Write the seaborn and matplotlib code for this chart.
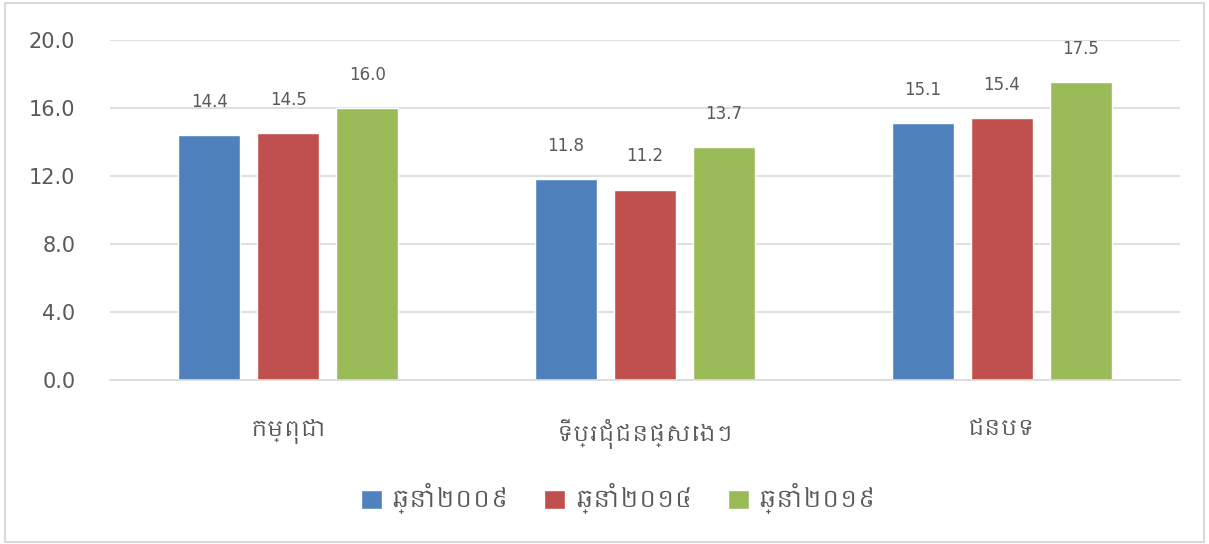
import pandas as pd
import matplotlib
matplotlib.use('Agg')
import matplotlib.pyplot as plt
import seaborn as sns
from matplotlib import font_manager
from matplotlib.ft2font import FT2Font
from matplotlib.patches import Rectangle

# Data
categories = ['កម្ពុជា', 'ទីប្រជុំជនផ្សេងៗ', 'ជនបទ']
years = ['ឆ្នាំ២០០៩', 'ឆ្នាំ២០១៤', 'ឆ្នាំ២០១៩']
values_2009 = [14.4, 11.8, 15.1]
values_2014 = [14.5, 11.2, 15.4]
values_2019 = [16.0, 13.7, 17.5]
colors = ['#4F81BD', '#C0504D', '#9BBB59']

df = pd.DataFrame({
    'area': categories * 3,
    'year': [years[0]] * 3 + [years[1]] * 3 + [years[2]] * 3,
    'value': values_2009 + values_2014 + values_2019,
})

# look for any installed font that has Khmer glyphs (prefer proportional ones)
khmer_fonts = []
for f in font_manager.fontManager.ttflist:
    try:
        if FT2Font(f.fname).get_char_index(0x1780):
            khmer_fonts.append(f.name)
    except Exception:
        pass
khmer_fonts = list(dict.fromkeys(khmer_fonts))
khmer_fonts.sort(key=lambda n: ('Mono' in n, 'Khmer' not in n))

sns.set_style('white')
plt.rcParams['font.family'] = ['DejaVu Sans'] + khmer_fonts
text_color = '#595959'

fig = plt.figure(figsize=(12.09, 5.44), dpi=100)
ax = fig.add_axes([0.091, 0.3015, 0.885, 0.625])

sns.barplot(data=df, x='area', y='value', hue='year', palette=colors,
            width=0.664, gap=0.215, ax=ax, legend=True, saturation=1)

ax.set_ylim(0, 20)
ax.set_xlim(-0.5, 2.5)
ax.set_yticks([0, 4, 8, 12, 16, 20])
ax.set_yticklabels([f'{t:.1f}' for t in [0, 4, 8, 12, 16, 20]])
ax.yaxis.grid(True, color='#D9D9D9', linewidth=1.2)
ax.set_axisbelow(True)
for s in ['top', 'right', 'left']:
    ax.spines[s].set_visible(False)
ax.spines['bottom'].set_color('#D9D9D9')
ax.spines['bottom'].set_linewidth(1.2)
ax.tick_params(axis='y', labelsize=15, colors=text_color, length=0, pad=25)
ax.tick_params(axis='x', labelsize=16, colors=text_color, length=0, pad=28)
ax.set_xlabel('')
ax.set_ylabel('')

for container in ax.containers:
    for bar in container:
        h = bar.get_height()
        ax.annotate(f'{h:.1f}', (bar.get_x() + bar.get_width() / 2, h),
                    xytext=(0, 24), textcoords='offset points',
                    ha='center', va='center', fontsize=12, color=text_color)

handles, labels = ax.get_legend_handles_labels()
ax.legend(handles, labels, loc='center', bbox_to_anchor=(0.475, -0.35),
          ncol=3, frameon=False, fontsize=17, labelcolor=text_color,
          handlelength=0.9, handleheight=0.9, handletextpad=0.4,
          columnspacing=1.5)

fig.patches.append(Rectangle((0.004, 0.004), 0.992, 0.99, transform=fig.transFigure,
                             fill=False, edgecolor='#D9D9D9', linewidth=1.5))

fig.savefig('out.png', dpi=100)
